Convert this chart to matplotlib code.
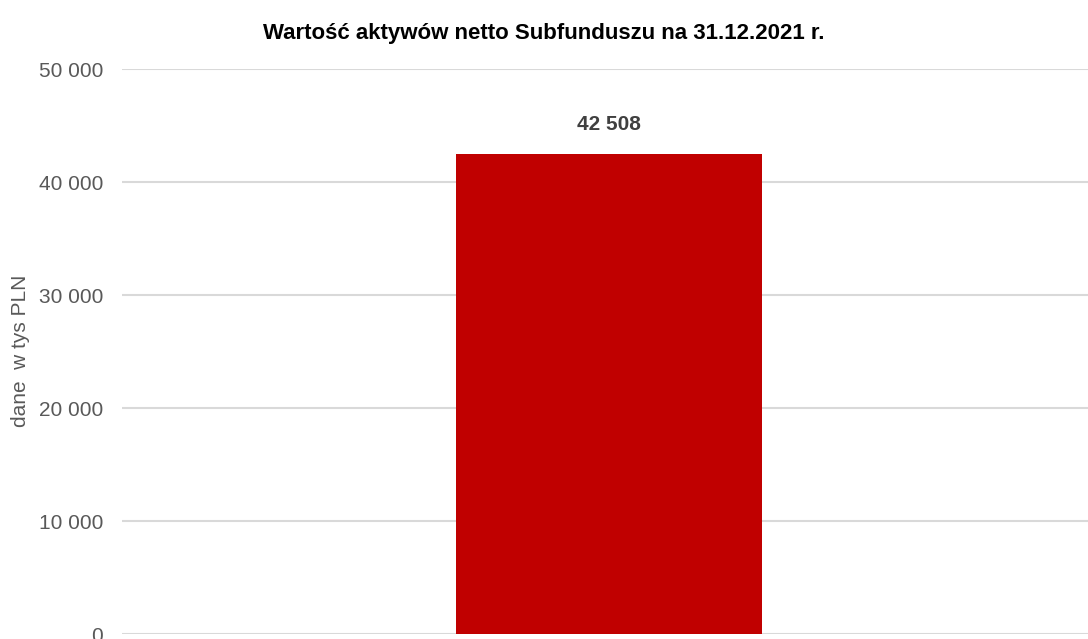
import matplotlib
matplotlib.use("Agg")
import matplotlib.pyplot as plt
from matplotlib.ticker import FuncFormatter

# data
categories = [""]
values = [42508]
y_ticks = [0, 10000, 20000, 30000, 40000, 50000]

plt.rcParams["font.family"] = ["Liberation Sans", "DejaVu Sans"]

fig = plt.figure(figsize=(10.88, 6.39), dpi=100)
ax = fig.add_axes([0.1121, 0.0078, 0.8879, 0.8842])

bars = ax.bar(range(len(categories)), values, width=0.317, color="#c00000",
              linewidth=0, zorder=3)
ax.set_xlim(-0.504, 0.496)
ax.set_ylim(0, 50000)
ax.set_yticks(y_ticks)
ax.yaxis.set_major_formatter(FuncFormatter(lambda v, p: f"{int(v):,}".replace(",", " ")))
ax.set_xticks([])

ax.grid(axis="y", color="#d9d9d9", linewidth=1.5, zorder=0)
for s in ax.spines.values():
    s.set_visible(False)
ax.tick_params(axis="y", length=0, pad=13.5, labelsize=15, labelcolor="#595959")

for b, v in zip(bars, values):
    ax.text(b.get_x() + b.get_width() / 2, v + 1700, f"{v:,}".replace(",", " "),
            ha="center", va="bottom", fontsize=15, fontweight="bold", color="#404040")

fig.text(21 / 1088, 1 - 351 / 639, "dane  w tys PLN", rotation=90,
         ha="center", va="center", fontsize=15, color="#595959")
fig.text(0.5, 0.948, "Wartość aktywów netto Subfunduszu na 31.12.2021 r.",
         ha="center", va="center", fontsize=16, fontweight="bold", color="black")

fig.savefig("out.png", dpi=100)
